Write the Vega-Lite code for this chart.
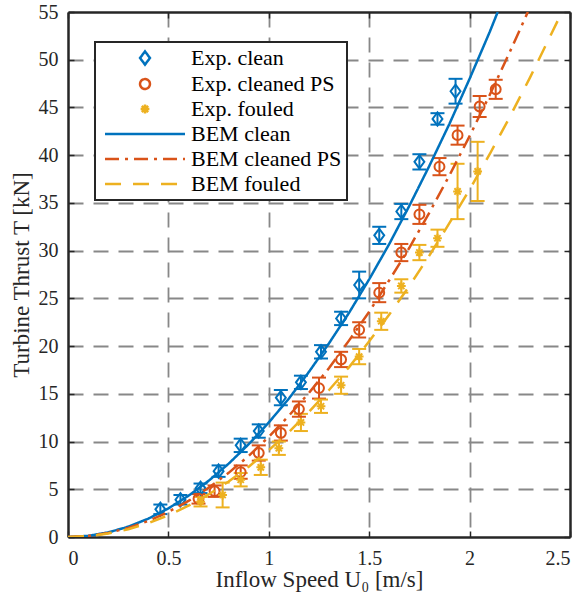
{
  "$schema": "https://vega.github.io/schema/vega-lite/v6.json",
  "width": 502,
  "height": 525,
  "autosize": {"type": "none"},
  "padding": {"left": 68, "top": 12, "right": 12, "bottom": 64},
  "background": "white",
  "config": {
    "view": {"stroke": null},
    "font": "Liberation Serif",
    "legend": {
      "labelFont": "Liberation Serif",
      "labelFontSize": 22,
      "labelColor": "black",
      "strokeColor": "#262626",
      "strokeWidth": 2,
      "fillColor": "white",
      "padding": 5,
      "rowPadding": 3,
      "symbolSize": 121,
      "symbolStrokeWidth": 2.5,
      "symbolOffset": 34,
      "labelOffset": 35,
      "symbolFillColor": "transparent"
    }
  },
  "datasets": {
    "exp": [
      {"s": "Exp. clean", "U": 0.46, "T": 2.9, "lo": 2.4, "hi": 3.4},
      {"s": "Exp. clean", "U": 0.56, "T": 3.9, "lo": 3.4, "hi": 4.4},
      {"s": "Exp. clean", "U": 0.66, "T": 5.1, "lo": 4.6, "hi": 5.6},
      {"s": "Exp. clean", "U": 0.75, "T": 6.9, "lo": 6.3, "hi": 7.5},
      {"s": "Exp. clean", "U": 0.86, "T": 9.6, "lo": 8.9, "hi": 10.3},
      {"s": "Exp. clean", "U": 0.95, "T": 11.1, "lo": 10.4, "hi": 11.8},
      {"s": "Exp. clean", "U": 1.06, "T": 14.6, "lo": 13.8, "hi": 15.4},
      {"s": "Exp. clean", "U": 1.16, "T": 16.2, "lo": 15.5, "hi": 16.9},
      {"s": "Exp. clean", "U": 1.26, "T": 19.4, "lo": 18.7, "hi": 20.1},
      {"s": "Exp. clean", "U": 1.36, "T": 22.9, "lo": 22.2, "hi": 23.6},
      {"s": "Exp. clean", "U": 1.45, "T": 26.4, "lo": 25.0, "hi": 27.8},
      {"s": "Exp. clean", "U": 1.55, "T": 31.6, "lo": 30.7, "hi": 32.5},
      {"s": "Exp. clean", "U": 1.66, "T": 34.1, "lo": 33.3, "hi": 34.9},
      {"s": "Exp. clean", "U": 1.75, "T": 39.3, "lo": 38.5, "hi": 40.1},
      {"s": "Exp. clean", "U": 1.84, "T": 43.8, "lo": 43.2, "hi": 44.4},
      {"s": "Exp. clean", "U": 1.93, "T": 46.7, "lo": 45.4, "hi": 48.0},
      {"s": "Exp. cleaned PS", "U": 0.65, "T": 4.0, "lo": 3.5, "hi": 4.5},
      {"s": "Exp. cleaned PS", "U": 0.73, "T": 4.8, "lo": 4.2, "hi": 5.4},
      {"s": "Exp. cleaned PS", "U": 0.86, "T": 6.8, "lo": 6.1, "hi": 7.5},
      {"s": "Exp. cleaned PS", "U": 0.95, "T": 8.8, "lo": 8.0, "hi": 9.6},
      {"s": "Exp. cleaned PS", "U": 1.06, "T": 10.9, "lo": 10.1, "hi": 11.7},
      {"s": "Exp. cleaned PS", "U": 1.15, "T": 13.4, "lo": 12.6, "hi": 14.2},
      {"s": "Exp. cleaned PS", "U": 1.25, "T": 15.6, "lo": 14.5, "hi": 16.7},
      {"s": "Exp. cleaned PS", "U": 1.36, "T": 18.6, "lo": 17.8, "hi": 19.4},
      {"s": "Exp. cleaned PS", "U": 1.45, "T": 21.7, "lo": 20.9, "hi": 22.5},
      {"s": "Exp. cleaned PS", "U": 1.55, "T": 25.6, "lo": 24.6, "hi": 26.6},
      {"s": "Exp. cleaned PS", "U": 1.66, "T": 29.8, "lo": 28.9, "hi": 30.7},
      {"s": "Exp. cleaned PS", "U": 1.75, "T": 33.8, "lo": 32.8, "hi": 34.8},
      {"s": "Exp. cleaned PS", "U": 1.85, "T": 38.8, "lo": 37.9, "hi": 39.7},
      {"s": "Exp. cleaned PS", "U": 1.94, "T": 42.1, "lo": 41.1, "hi": 43.1},
      {"s": "Exp. cleaned PS", "U": 2.05, "T": 45.1, "lo": 44.0, "hi": 46.2},
      {"s": "Exp. cleaned PS", "U": 2.13, "T": 46.9, "lo": 45.9, "hi": 47.9},
      {"s": "Exp. fouled", "U": 0.66, "T": 3.7, "lo": 3.2, "hi": 4.2},
      {"s": "Exp. fouled", "U": 0.77, "T": 4.4, "lo": 3.1, "hi": 5.7},
      {"s": "Exp. fouled", "U": 0.86, "T": 6.0, "lo": 5.3, "hi": 6.7},
      {"s": "Exp. fouled", "U": 0.96, "T": 7.3, "lo": 6.5, "hi": 8.1},
      {"s": "Exp. fouled", "U": 1.05, "T": 9.3, "lo": 8.6, "hi": 10.0},
      {"s": "Exp. fouled", "U": 1.16, "T": 12.0, "lo": 11.1, "hi": 12.9},
      {"s": "Exp. fouled", "U": 1.26, "T": 13.7, "lo": 13.0, "hi": 14.4},
      {"s": "Exp. fouled", "U": 1.36, "T": 15.9, "lo": 15.0, "hi": 16.8},
      {"s": "Exp. fouled", "U": 1.45, "T": 18.9, "lo": 18.1, "hi": 19.7},
      {"s": "Exp. fouled", "U": 1.56, "T": 22.6, "lo": 21.7, "hi": 23.5},
      {"s": "Exp. fouled", "U": 1.66, "T": 26.3, "lo": 25.6, "hi": 27.0},
      {"s": "Exp. fouled", "U": 1.75, "T": 29.8, "lo": 29.0, "hi": 30.6},
      {"s": "Exp. fouled", "U": 1.84, "T": 31.3, "lo": 30.4, "hi": 32.2},
      {"s": "Exp. fouled", "U": 1.94, "T": 36.2, "lo": 33.3, "hi": 39.1},
      {"s": "Exp. fouled", "U": 2.04, "T": 38.3, "lo": 35.2, "hi": 41.4}
    ],
    "bem": [
      {"s": "BEM clean", "U": 0.0, "T": 0.0},
      {"s": "BEM clean", "U": 0.1, "T": 0.12},
      {"s": "BEM clean", "U": 0.2, "T": 0.48},
      {"s": "BEM clean", "U": 0.3, "T": 1.08},
      {"s": "BEM clean", "U": 0.4, "T": 1.92},
      {"s": "BEM clean", "U": 0.5, "T": 3.0},
      {"s": "BEM clean", "U": 0.6, "T": 4.32},
      {"s": "BEM clean", "U": 0.7, "T": 5.88},
      {"s": "BEM clean", "U": 0.8, "T": 7.68},
      {"s": "BEM clean", "U": 0.9, "T": 9.72},
      {"s": "BEM clean", "U": 1.0, "T": 12.0},
      {"s": "BEM clean", "U": 1.1, "T": 14.5},
      {"s": "BEM clean", "U": 1.2, "T": 17.3},
      {"s": "BEM clean", "U": 1.3, "T": 20.3},
      {"s": "BEM clean", "U": 1.4, "T": 23.5},
      {"s": "BEM clean", "U": 1.5, "T": 27.0},
      {"s": "BEM clean", "U": 1.6, "T": 30.7},
      {"s": "BEM clean", "U": 1.7, "T": 34.7},
      {"s": "BEM clean", "U": 1.8, "T": 38.9},
      {"s": "BEM clean", "U": 1.9, "T": 43.3},
      {"s": "BEM clean", "U": 2.0, "T": 48.0},
      {"s": "BEM clean", "U": 2.1, "T": 52.9},
      {"s": "BEM clean", "U": 2.14, "T": 55.0},
      {"s": "BEM cleaned PS", "U": 0.0, "T": 0.0},
      {"s": "BEM cleaned PS", "U": 0.1, "T": 0.11},
      {"s": "BEM cleaned PS", "U": 0.2, "T": 0.42},
      {"s": "BEM cleaned PS", "U": 0.3, "T": 0.95},
      {"s": "BEM cleaned PS", "U": 0.4, "T": 1.68},
      {"s": "BEM cleaned PS", "U": 0.5, "T": 2.63},
      {"s": "BEM cleaned PS", "U": 0.6, "T": 3.78},
      {"s": "BEM cleaned PS", "U": 0.7, "T": 5.15},
      {"s": "BEM cleaned PS", "U": 0.8, "T": 6.72},
      {"s": "BEM cleaned PS", "U": 0.9, "T": 8.5},
      {"s": "BEM cleaned PS", "U": 1.0, "T": 10.5},
      {"s": "BEM cleaned PS", "U": 1.1, "T": 12.7},
      {"s": "BEM cleaned PS", "U": 1.2, "T": 15.1},
      {"s": "BEM cleaned PS", "U": 1.3, "T": 17.7},
      {"s": "BEM cleaned PS", "U": 1.4, "T": 20.6},
      {"s": "BEM cleaned PS", "U": 1.5, "T": 23.6},
      {"s": "BEM cleaned PS", "U": 1.6, "T": 26.9},
      {"s": "BEM cleaned PS", "U": 1.7, "T": 30.3},
      {"s": "BEM cleaned PS", "U": 1.8, "T": 34.0},
      {"s": "BEM cleaned PS", "U": 1.9, "T": 37.9},
      {"s": "BEM cleaned PS", "U": 2.0, "T": 42.0},
      {"s": "BEM cleaned PS", "U": 2.1, "T": 46.3},
      {"s": "BEM cleaned PS", "U": 2.2, "T": 50.8},
      {"s": "BEM cleaned PS", "U": 2.29, "T": 55.0},
      {"s": "BEM fouled", "U": 0.0, "T": 0.0},
      {"s": "BEM fouled", "U": 0.1, "T": 0.09},
      {"s": "BEM fouled", "U": 0.2, "T": 0.36},
      {"s": "BEM fouled", "U": 0.3, "T": 0.82},
      {"s": "BEM fouled", "U": 0.4, "T": 1.46},
      {"s": "BEM fouled", "U": 0.5, "T": 2.28},
      {"s": "BEM fouled", "U": 0.6, "T": 3.28},
      {"s": "BEM fouled", "U": 0.7, "T": 4.46},
      {"s": "BEM fouled", "U": 0.8, "T": 5.82},
      {"s": "BEM fouled", "U": 0.9, "T": 7.37},
      {"s": "BEM fouled", "U": 1.0, "T": 9.1},
      {"s": "BEM fouled", "U": 1.1, "T": 11.0},
      {"s": "BEM fouled", "U": 1.2, "T": 13.1},
      {"s": "BEM fouled", "U": 1.3, "T": 15.4},
      {"s": "BEM fouled", "U": 1.4, "T": 17.8},
      {"s": "BEM fouled", "U": 1.5, "T": 20.5},
      {"s": "BEM fouled", "U": 1.6, "T": 23.3},
      {"s": "BEM fouled", "U": 1.7, "T": 26.3},
      {"s": "BEM fouled", "U": 1.8, "T": 29.5},
      {"s": "BEM fouled", "U": 1.9, "T": 32.9},
      {"s": "BEM fouled", "U": 2.0, "T": 36.4},
      {"s": "BEM fouled", "U": 2.1, "T": 40.1},
      {"s": "BEM fouled", "U": 2.2, "T": 44.0},
      {"s": "BEM fouled", "U": 2.3, "T": 48.1},
      {"s": "BEM fouled", "U": 2.4, "T": 52.4},
      {"s": "BEM fouled", "U": 2.46, "T": 55.0}
    ]
  },
  "layer": [
    {
      "layer": [
        {
          "data": {"name": "exp"},
          "mark": {"type": "rule", "strokeWidth": 2},
          "encoding": {
            "x": {"field": "U", "type": "quantitative", "scale": {"domain": [0, 2.5], "nice": false}},
            "y": {"field": "lo", "type": "quantitative", "scale": {"domain": [0, 55], "nice": false}},
            "y2": {"field": "hi"},
            "color": {"field": "s", "type": "nominal",
              "legend": {"orient": "none", "legendX": 27, "legendY": 30, "title": null},
              "scale": {"domain": ["Exp. clean", "Exp. cleaned PS", "Exp. fouled", "BEM clean", "BEM cleaned PS", "BEM fouled"],
                        "range": ["#0072BD", "#D95319", "#EDB120", "#0072BD", "#D95319", "#EDB120"]}}
          }
        },
        {
          "data": {"name": "exp"},
          "mark": {"type": "rule", "strokeWidth": 2, "xOffset": -7, "x2Offset": 7},
          "encoding": {
            "x": {"field": "U", "type": "quantitative", "scale": {"domain": [0, 2.5], "nice": false}},
            "x2": {"field": "U"},
            "y": {"field": "lo", "type": "quantitative", "scale": {"domain": [0, 55], "nice": false}},
            "color": {"field": "s", "type": "nominal",
              "legend": {"orient": "none", "legendX": 27, "legendY": 30, "title": null},
              "scale": {"domain": ["Exp. clean", "Exp. cleaned PS", "Exp. fouled", "BEM clean", "BEM cleaned PS", "BEM fouled"],
                        "range": ["#0072BD", "#D95319", "#EDB120", "#0072BD", "#D95319", "#EDB120"]}}
          }
        },
        {
          "data": {"name": "exp"},
          "mark": {"type": "rule", "strokeWidth": 2, "xOffset": -7, "x2Offset": 7},
          "encoding": {
            "x": {"field": "U", "type": "quantitative", "scale": {"domain": [0, 2.5], "nice": false}},
            "x2": {"field": "U"},
            "y": {"field": "hi", "type": "quantitative", "scale": {"domain": [0, 55], "nice": false}},
            "color": {"field": "s", "type": "nominal",
              "legend": {"orient": "none", "legendX": 27, "legendY": 30, "title": null},
              "scale": {"domain": ["Exp. clean", "Exp. cleaned PS", "Exp. fouled", "BEM clean", "BEM cleaned PS", "BEM fouled"],
                        "range": ["#0072BD", "#D95319", "#EDB120", "#0072BD", "#D95319", "#EDB120"]}}
          }
        },
        {
          "data": {"name": "exp"},
          "mark": {"type": "point", "filled": false, "strokeWidth": 2, "opacity": 1, "size": 121},
          "encoding": {
            "x": {"field": "U", "type": "quantitative", "scale": {"domain": [0, 2.5], "nice": false}},
            "y": {"field": "T", "type": "quantitative", "scale": {"domain": [0, 55], "nice": false}},
            "color": {"field": "s", "type": "nominal",
              "legend": {"orient": "none", "legendX": 27, "legendY": 30, "title": null},
              "scale": {"domain": ["Exp. clean", "Exp. cleaned PS", "Exp. fouled", "BEM clean", "BEM cleaned PS", "BEM fouled"],
                        "range": ["#0072BD", "#D95319", "#EDB120", "#0072BD", "#D95319", "#EDB120"]}},
            "shape": {"field": "s", "type": "nominal",
              "legend": {"orient": "none", "legendX": 27, "legendY": 30, "title": null},
              "scale": {"domain": ["Exp. clean", "Exp. cleaned PS", "Exp. fouled", "BEM clean", "BEM cleaned PS", "BEM fouled"],
                        "range": ["M0,-1.2L0.9,0L0,1.2L-0.9,0Z", "M0.9,0A0.9,0.9 0 1,1 -0.9,0A0.9,0.9 0 1,1 0.9,0Z", "M-0.8,0L0.8,0M0,-0.8L0,0.8M-0.57,-0.57L0.57,0.57M-0.57,0.57L0.57,-0.57", "M-7.27,0L7.27,0", "M-7.27,0L7.27,0", "M-7.27,0L7.27,0"]}}
          }
        },
        {
          "data": {"name": "bem"},
          "mark": {"type": "line", "strokeWidth": 2.5, "clip": true},
          "encoding": {
            "x": {"field": "U", "type": "quantitative", "scale": {"domain": [0, 2.5], "nice": false},
              "axis": {"values": [0, 0.5, 1, 1.5, 2, 2.5], "format": "~g", "title": "Inflow Speed U₀ [m/s]",
                "grid": true, "gridDash": [15, 10], "gridColor": "#888888", "gridWidth": 1.8,
                "gridOpacity": {"condition": {"test": "datum.value == 0 || datum.value == 2.5", "value": 0}, "value": 1},
                "tickSize": -6, "tickColor": "#262626", "tickWidth": 1.5,
                "domainColor": "#262626", "domainWidth": 2.5,
                "labelFont": "Liberation Serif", "labelFontSize": 20, "labelColor": "#262626", "labelPadding": 17,
                "titleFont": "Liberation Serif", "titleFontSize": 23, "titleFontWeight": "normal", "titleColor": "#262626", "titlePadding": 0}},
            "y": {"field": "T", "type": "quantitative", "scale": {"domain": [0, 55], "nice": false},
              "axis": {"values": [0, 5, 10, 15, 20, 25, 30, 35, 40, 45, 50, 55], "title": "Turbine Thrust T [kN]",
                "grid": true, "gridDash": [15, 10], "gridColor": "#888888", "gridWidth": 1.8,
                "gridOpacity": {"condition": {"test": "datum.value == 0 || datum.value == 55", "value": 0}, "value": 1},
                "tickSize": -6, "tickColor": "#262626", "tickWidth": 1.5,
                "domainColor": "#262626", "domainWidth": 2.5,
                "labelFont": "Liberation Serif", "labelFontSize": 20, "labelColor": "#262626", "labelPadding": 16,
                "titleFont": "Liberation Serif", "titleFontSize": 23, "titleFontWeight": "normal", "titleColor": "#262626", "titlePadding": 5}},
            "color": {"field": "s", "type": "nominal",
              "legend": {"orient": "none", "legendX": 27, "legendY": 30, "title": null},
              "scale": {"domain": ["Exp. clean", "Exp. cleaned PS", "Exp. fouled", "BEM clean", "BEM cleaned PS", "BEM fouled"],
                        "range": ["#0072BD", "#D95319", "#EDB120", "#0072BD", "#D95319", "#EDB120"]}},
            "strokeDash": {"field": "s", "type": "nominal",
              "legend": {"orient": "none", "legendX": 27, "legendY": 30, "title": null},
              "scale": {"domain": ["Exp. clean", "Exp. cleaned PS", "Exp. fouled", "BEM clean", "BEM cleaned PS", "BEM fouled"],
                        "range": [[1, 0], [1, 0], [1, 0], [1, 0], [14, 6, 3, 6], [16, 12]]}}
          }
        }
      ]
    },
    {
      "data": {"name": "exp"},
      "mark": {"type": "point", "opacity": 0},
      "encoding": {
        "x": {"field": "U", "type": "quantitative", "scale": {"domain": [0, 2.5], "nice": false},
          "axis": {"orient": "top", "values": [0, 0.5, 1, 1.5, 2, 2.5], "labels": false, "grid": false, "title": null,
            "tickSize": -6, "tickColor": "#262626", "tickWidth": 1.5, "domainColor": "#262626", "domainWidth": 2.5}},
        "y": {"field": "T", "type": "quantitative", "scale": {"domain": [0, 55], "nice": false},
          "axis": {"orient": "right", "values": [0, 5, 10, 15, 20, 25, 30, 35, 40, 45, 50, 55], "labels": false, "grid": false, "title": null,
            "tickSize": -6, "tickColor": "#262626", "tickWidth": 1.5, "domainColor": "#262626", "domainWidth": 2.5}}
      }
    }
  ],
  "resolve": {"axis": {"x": "independent", "y": "independent"}}
}
